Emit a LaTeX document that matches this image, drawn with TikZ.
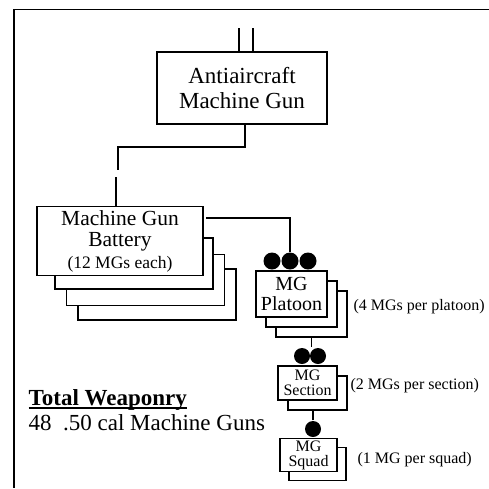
\documentclass[tikz,border=0pt]{standalone}
\usepackage{fontspec}
\setmainfont{Liberation Serif}
\usetikzlibrary{positioning}
\newcommand{\ulbold}[1]{\setbox0\hbox{#1}\rlap{\rule[-3.6pt]{\wd0}{1.4pt}}\box0}

\begin{document}
\begin{tikzpicture}[x=1pt,y=-1pt,line width=1.2pt,
 box/.style={draw,fill=white,line width=1.8pt,align=center,inner sep=0pt},
 big/.style={box,font=\fontsize{23}{25}\selectfont},
 mid/.style={box,font=\fontsize{20}{20}\selectfont,minimum width=71pt,minimum height=46pt},
 small/.style={box,font=\fontsize{16}{15}\selectfont,minimum width=58pt,minimum height=33pt},
 gun/.style={circle,fill,draw=none,inner sep=0pt,minimum size=17pt},
 note/.style={anchor=west,inner sep=0pt,font=\fontsize{16}{16}\selectfont},
 total/.style={anchor=base west,inner sep=0pt,font=\fontsize{23}{25}\selectfont}]
\useasboundingbox (0,0) rectangle (489,488);
\draw[line width=1.5pt] (489,9.5) -- (14,9.5) -- (14,488);

% antiaircraft machine gun
\node[big,minimum width=170pt,minimum height=72pt] (aa) at (242,88) {Antiaircraft\\Machine Gun};
\coordinate (in1) at (239,28);
\coordinate (in2) at (253,28);
\draw (in1) -- (in1 |- aa.north);
\draw (in2) -- (in2 |- aa.north);

% batteries
\node[box,minimum width=158pt,minimum height=51pt] (batt3) at (157,294.5) {};
\node[box,minimum width=158pt,minimum height=51pt] (batt2) at (145.5,280) {};
\node[box,minimum width=158pt,minimum height=51pt] (batt1) at (134,263.5) {};
\node[big,font=\fontsize{21.5}{21.5}\selectfont,minimum width=166pt,minimum height=69pt] (batt) at (120,241)
 {Machine Gun\\Battery\\{\fontsize{17.5}{21.5}\selectfont (12 MGs each)}};
\coordinate (elbow) at (245,147);
\coordinate (brk1) at (118,170);
\coordinate (brk2) at (116,177);
\draw (aa.south -| elbow) -- (elbow) -| (brk1);
\draw (brk2) -- (brk2 |- batt.north);

% platoons
\node[gun] (pd1) at (272,261) {};
\node[gun] (pd2) at (290,261) {};
\node[gun] (pd3) at (308,261) {};
\coordinate (bj) at (206,218);
\draw (bj) -| (pd2.north);
\node[mid] (plt3) at (311.5,314) {};
\node[mid] (plt2) at (301.5,304) {};
\node[mid] (plt) at (291.5,294) {MG\\Platoon};
\node[note,right=5pt of plt3.east,yshift=7pt] (pltnote) {(4 MGs per platoon)};

% sections
\node[gun,minimum size=16pt] (sd1) at (302,356) {};
\node[gun,minimum size=16pt] (sd2) at (318,356) {};
\draw (plt3.south) -- (plt3.south |- sd1.north);
\node[small,minimum width=59pt,minimum height=34pt] (sec2) at (317.5,393) {};
\node[small,minimum width=59pt,minimum height=34pt] (sec) at (307.5,383) {MG\\Section};
\node[note] (secnote) at (350,386) {(2 MGs per section)};

% squads
\node[gun,minimum size=16pt] (qd) at (313,429) {};
\draw (qd.north) -- (qd.north |- sec2.south);
\node[small,minimum width=57pt] (sqd2) at (317.5,464) {};
\node[small,minimum width=57pt] (sqd) at (308.5,455) {MG\\Squad};
\node[note] (sqdnote) at (357,460) {(1 MG per squad)};

% totals
\node[total,font=\fontsize{23}{25}\selectfont\bfseries] (tot) at (28,405) {\ulbold{Total Weaponry}};
\node[total] (guns) at (28,430) {48\ \ .50 cal Machine Guns};
\end{tikzpicture}
\end{document}
